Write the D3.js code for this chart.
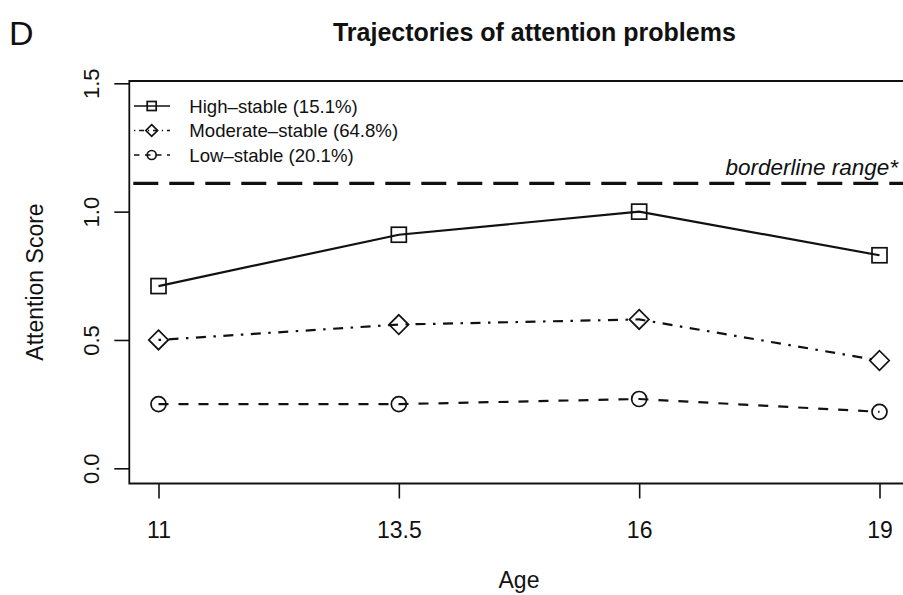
<!DOCTYPE html>
<html>
<head>
<meta charset="utf-8">
<script src="https://cdn.jsdelivr.net/npm/d3@7"></script>
<style>
  html, body { margin: 0; padding: 0; background: #fff; }
  svg { display: block; font-family: "Liberation Sans", Arial, Helvetica, sans-serif; }
</style>
</head>
<body>
<svg id="chart" width="903" height="595"></svg>
<script>
// ---- data ----
const ages = ["11", "13.5", "16", "19"];
const highStable = [0.71, 0.91, 1.00, 0.83];
const moderateStable = [0.50, 0.56, 0.58, 0.42];
const lowStable = [0.25, 0.25, 0.27, 0.22];
const yTicks = [0.0, 0.5, 1.0, 1.5];
const yTickLabels = ["0.0", "0.5", "1.0", "1.5"];
const borderline = 1.11;
const seriesNames = ["High\u2013stable (15.1%)", "Moderate\u2013stable (64.8%)", "Low\u2013stable (20.1%)"];
const titleText = "Trajectories of attention problems";
const panelLetter = "D";
const xLabel = "Age";
const yLabel = "Attention Score";
const borderlineLabel = "borderline range*";

// ---- layout ----
const svg = d3.select("#chart");
const box = { left: 129.3, top: 81, right: 909, bottom: 483.5 };
const x = d3.scalePoint().domain(ages).range([158.5, 879.5]);
const y = d3.scaleLinear().domain([0, 1.5]).range([468.3, 83.3]);
const ink = "#111";

const styles = [
  { values: highStable, dash: null, legendDash: null, shape: "square" },
  { values: moderateStable, dash: "2.5,7.5,10,7.5", legendDash: "1.3,3.8,5,3.8", shape: "diamond" },
  { values: lowStable, dash: "10,10", legendDash: "5.5,5.5", shape: "circle" }
];

// panel letter + title
svg.append("text").attr("x", 9).attr("y", 45).attr("font-size", 34).attr("fill", ink).text(panelLetter);
svg.append("text").attr("x", 534.4).attr("y", 41).attr("text-anchor", "middle")
  .attr("font-size", 25).attr("font-weight", "bold").attr("fill", ink).text(titleText);

// box (left, top, bottom; right side lies outside the picture)
svg.append("path")
  .attr("d", `M${box.right},${box.top}H${box.left}V${box.bottom}H${box.right}`)
  .attr("fill", "none").attr("stroke", ink).attr("stroke-width", 1.8);

// y axis
const yAxis = d3.axisLeft(y).tickValues(yTicks).tickSize(15).tickFormat((d, i) => yTickLabels[i]);
const gy = svg.append("g").attr("transform", `translate(${box.left},0)`).call(yAxis);
gy.select(".domain").remove();
gy.selectAll(".tick line").attr("stroke", ink).attr("stroke-width", 1.6);
gy.selectAll(".tick text")
  .attr("font-size", 22).attr("fill", ink)
  .attr("x", null).attr("dy", null)
  .attr("text-anchor", "middle")
  .attr("transform", `translate(${99 - box.left},0) rotate(-90)`);

// x axis
const xAxis = d3.axisBottom(x).tickSize(15);
const gx = svg.append("g").attr("transform", `translate(0,${box.bottom})`).call(xAxis);
gx.select(".domain").remove();
gx.selectAll(".tick line").attr("stroke", ink).attr("stroke-width", 1.6);
gx.selectAll(".tick text").attr("font-size", 23).attr("fill", ink)
  .attr("dy", null).attr("y", 538 - box.bottom);

// axis labels
svg.append("text").attr("x", 519).attr("y", 588).attr("text-anchor", "middle")
  .attr("font-size", 23).attr("fill", ink).text(xLabel);
svg.append("text").attr("transform", `translate(42.5,282) rotate(-90)`).attr("text-anchor", "middle")
  .attr("font-size", 23).attr("fill", ink).text(yLabel);

// borderline
svg.append("line").attr("x1", box.left + 1).attr("x2", 903)
  .attr("y1", y(borderline)).attr("y2", y(borderline))
  .attr("stroke", ink).attr("stroke-width", 3.4).attr("stroke-dasharray", "25,11").attr("stroke-dashoffset", -3);
svg.append("text").attr("x", 898).attr("y", 175).attr("text-anchor", "end")
  .attr("font-size", 22.5).attr("font-style", "italic").attr("fill", ink).text(borderlineLabel);

// symbol drawing
function drawSymbol(g, shape, cx, cy, s) {
  if (shape === "square") {
    g.append("rect").attr("x", cx - s / 2).attr("y", cy - s / 2).attr("width", s).attr("height", s)
      .attr("fill", "none").attr("stroke", ink).attr("stroke-width", 1.7);
  } else if (shape === "diamond") {
    const r = s * 0.65;
    g.append("path").attr("d", `M${cx},${cy - r}L${cx + r},${cy}L${cx},${cy + r}L${cx - r},${cy}Z`)
      .attr("fill", "none").attr("stroke", ink).attr("stroke-width", 1.7);
  } else {
    g.append("circle").attr("cx", cx).attr("cy", cy).attr("r", s / 2)
      .attr("fill", "none").attr("stroke", ink).attr("stroke-width", 1.7);
  }
}

// series lines + markers
const line = d3.line().x((d, i) => x(ages[i])).y(d => y(d));
styles.forEach(st => {
  const g = svg.append("g");
  g.append("path").attr("d", line(st.values)).attr("fill", "none")
    .attr("stroke", ink).attr("stroke-width", 2.2)
    .attr("stroke-dasharray", st.dash);
  st.values.forEach((v, i) => drawSymbol(g, st.shape, x(ages[i]), y(v), 15));
});

// legend
const legendY = [106, 130.5, 155];
styles.forEach((st, i) => {
  const g = svg.append("g");
  const ly = legendY[i];
  g.append("line").attr("x1", 134).attr("x2", 170).attr("y1", ly).attr("y2", ly)
    .attr("stroke", ink).attr("stroke-width", 1.4).attr("stroke-dasharray", st.legendDash);
  drawSymbol(g, st.shape, 151.7, ly, 9);
  g.append("text").attr("x", 189.3).attr("y", ly).attr("dy", "0.36em")
    .attr("font-size", 18.6).attr("fill", ink).text(seriesNames[i]);
});
</script>
</body>
</html>
